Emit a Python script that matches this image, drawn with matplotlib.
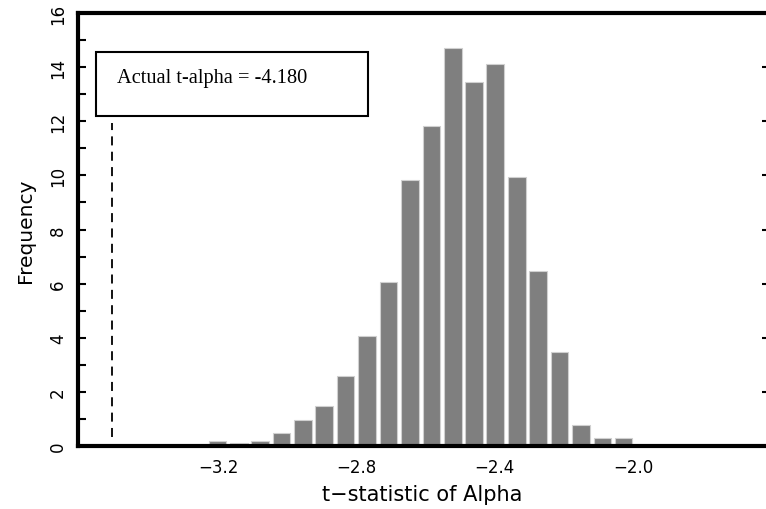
import matplotlib
matplotlib.use('Agg')
import matplotlib.pyplot as plt
from matplotlib.patches import Rectangle

# centros das classes e frequencias
bin_centers = [-3.202, -3.140, -3.078, -3.016, -2.955, -2.893, -2.831, -2.769,
               -2.707, -2.645, -2.583, -2.521, -2.460, -2.398, -2.336, -2.274,
               -2.212, -2.150, -2.088, -2.027]
frequency = [0.17, 0.12, 0.17, 0.47, 0.96, 1.47, 2.58, 4.05, 6.05, 9.83,
             11.81, 14.70, 13.44, 14.12, 9.93, 6.46, 3.46, 0.77, 0.28, 0.28]
x_ticks = [-3.2, -2.8, -2.4, -2.0]
y_ticks = [0, 2, 4, 6, 8, 10, 12, 14, 16]
actual_t_alpha = -4.180

fig = plt.figure(figsize=(7.66, 5.10), dpi=100)
ax = fig.add_axes([78 / 766, 63 / 510, 688 / 766, 433 / 510])

ax.bar(bin_centers, frequency, width=0.051, color='#7f7f7f',
       edgecolor='#d0d0d0', linewidth=0.8)

# linha tracejada do t-alpha real (fora da escala, desenhada na borda)
ax.plot([-3.507, -3.507], [0.35, 11.95], color='black', linestyle=(0, (5, 3.5)),
        linewidth=1.3)

ax.add_patch(Rectangle((-3.553, 12.2), 0.786, 2.36, fill=False,
                       edgecolor='black', linewidth=1.5))
ax.text(-3.492, 13.62, f'Actual t-alpha = {actual_t_alpha:.3f}',
        fontfamily='Liberation Serif', fontsize=14.7, va='center', ha='left')

ax.set_xlim(-3.605, -1.615)
ax.set_ylim(0, 16)

ax.set_xticks(x_ticks)
ax.set_xticklabels([f'{v:.1f}'.replace('-', '\u2212') for v in x_ticks])
ax.set_yticks(y_ticks)
ax.set_yticks(range(1, 16, 2), minor=True)

ax.tick_params(axis='x', length=0, pad=9, labelsize=12)
ax.tick_params(axis='y', which='both', direction='in', length=6, width=1.5,
               labelsize=12, labelrotation=90, pad=8)
for lab in ax.get_yticklabels():
    lab.set_va('center')

# ticks curtos do lado direito (so nos valores pares)
sec = ax.secondary_yaxis('right')
sec.set_yticks(y_ticks)
sec.tick_params(direction='in', length=3, width=1.5, labelright=False)
sec.spines['right'].set_visible(False)

for side in ['left', 'top', 'bottom']:
    ax.spines[side].set_linewidth(3)
ax.spines['right'].set_visible(False)

ax.set_xlabel('t\u2212statistic of Alpha', fontsize=15)
ax.xaxis.set_label_coords(0.5, -0.088)
ax.set_ylabel('Frequency', fontsize=14.5)
ax.yaxis.set_label_coords(-0.062, 0.5)

plt.savefig('out.png', dpi=100)
